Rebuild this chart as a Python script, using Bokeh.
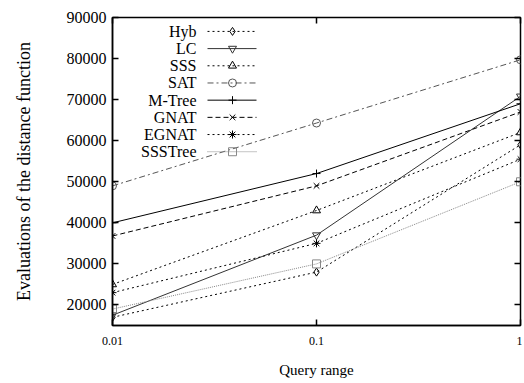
from bokeh.plotting import figure
from bokeh.models import FixedTicker, LinearAxis, LogAxis, Range1d, Label
from bokeh.embed import file_html
from bokeh.resources import INLINE
import math

query_range = [0.01, 0.1, 1]
hyb = [17000, 28000, 59000]
lc = [17500, 37000, 70800]
sss = [25000, 43000, 62000]
sat = [49000, 64300, 79700]
mtree = [40000, 52000, 69000]
gnat = [36800, 49000, 67000]
egnat = [23000, 35000, 55500]
ssstree = [19000, 30000, 50000]

names = ["Hyb", "LC", "SSS", "SAT", "M-Tree", "GNAT", "EGNAT", "SSSTree"]
series = [hyb, lc, sss, sat, mtree, gnat, egnat, ssstree]
markers = ["diamond", "inverted_triangle", "triangle", "circle", "cross", "x", "asterisk", "square"]
colors = ["#000000", "#333333", "#000000", "#555555", "#000000", "#000000", "#000000", "#888888"]
dashes = ["2 3", "solid", "2 3", "6 3 2 3", "solid", "5 3", "2 3", "1 1"]

y_ticks = [20000, 30000, 40000, 50000, 60000, 70000, 80000, 90000]
x_ticks = [0.01, 0.1, 1]
x_labels = {0.01: "0.01", 0.1: "0.1", 1: "1"}

FONT = "Liberation Serif"
XMIN, XMAX, YMIN, YMAX = 0.01, 1, 15000, 90000

p = figure(width=522, height=380, x_axis_type="log",
           x_range=Range1d(XMIN, XMAX), y_range=Range1d(YMIN, YMAX),
           output_backend="svg", toolbar_location=None,
           min_border_left=112, min_border_top=17, min_border_right=2, min_border_bottom=53)
p.grid.visible = False
p.background_fill_color = "white"
p.border_fill_color = "white"
p.outline_line_color = "black"
p.outline_line_width = 1.5

for ax in (p.xaxis[0], p.yaxis[0]):
    ax.major_tick_in = 6
    ax.major_tick_out = 0
    ax.minor_tick_in = 0
    ax.minor_tick_out = 0
    ax.axis_line_color = "black"
    ax.axis_line_width = 1.5
    ax.major_label_text_font = FONT
    ax.major_label_text_color = "black"
    ax.axis_label_text_font = FONT
    ax.axis_label_text_color = "black"
    ax.axis_label_text_font_style = "normal"
    ax.major_tick_line_width = 1.5

p.xaxis.ticker = FixedTicker(ticks=x_ticks, minor_ticks=[])
p.xaxis.major_label_overrides = x_labels
p.xaxis.major_label_text_font_size = "12px"
p.xaxis.major_label_standoff = 11
p.xaxis.axis_label = "Query range"
p.xaxis.axis_label_text_font_size = "15px"
p.xaxis.axis_label_standoff = 14

p.yaxis.ticker = FixedTicker(ticks=y_ticks, minor_ticks=[])
p.yaxis.major_label_text_font_size = "16px"
p.yaxis.major_label_standoff = 6
p.yaxis.axis_label = "Evaluations of the distance function"
p.yaxis.axis_label_text_font_size = "18px"
p.yaxis.axis_label_standoff = 30

# mirrored ticks
right = LinearAxis(ticker=FixedTicker(ticks=y_ticks, minor_ticks=[]), major_tick_in=6, major_tick_out=0,
                   minor_tick_in=0, minor_tick_out=0, major_label_text_font_size="1px",
                   major_label_text_alpha=0, major_label_standoff=0, axis_line_color=None,
                   major_tick_line_width=1.5)
top = LogAxis(ticker=FixedTicker(ticks=x_ticks, minor_ticks=[]), major_tick_in=6, major_tick_out=0,
              minor_tick_in=0, minor_tick_out=0, major_label_text_font_size="1px",
              major_label_text_alpha=0, major_label_standoff=0, axis_line_color=None,
              major_tick_line_width=1.5)
p.add_layout(right, "right")
p.add_layout(top, "above")

for vals, m, c, d in zip(series, markers, colors, dashes):
    p.line(query_range, vals, line_color=c, line_dash=d, line_width=1)
    p.scatter(query_range, vals, marker=m, size=8, line_color=c, fill_color=None, line_width=1)

# manual legend (label at left, sample at right), placed from frame fractions
FRAME_W, FRAME_H = 408.0, 310.0
def xdata(px):
    return 10 ** (math.log10(XMIN) + (px / FRAME_W) * (math.log10(XMAX) - math.log10(XMIN)))
def ydata(py):
    return YMAX - (py / FRAME_H) * (YMAX - YMIN)

for i, (n, m, c, d) in enumerate(zip(names, markers, colors, dashes)):
    py = 14 + i * 17.3
    yy = ydata(py)
    p.add_layout(Label(x=xdata(84), y=yy, text=n, text_align="right", text_baseline="middle",
                       text_font=FONT, text_font_size="16px", text_color="black"))
    p.line([xdata(95), xdata(144)], [yy, yy], line_color=c, line_dash=d, line_width=1)
    p.scatter([xdata(120)], [yy], marker=m, size=8, line_color=c, fill_color=None, line_width=1)

open("out.html", "w").write(file_html(p, INLINE))
